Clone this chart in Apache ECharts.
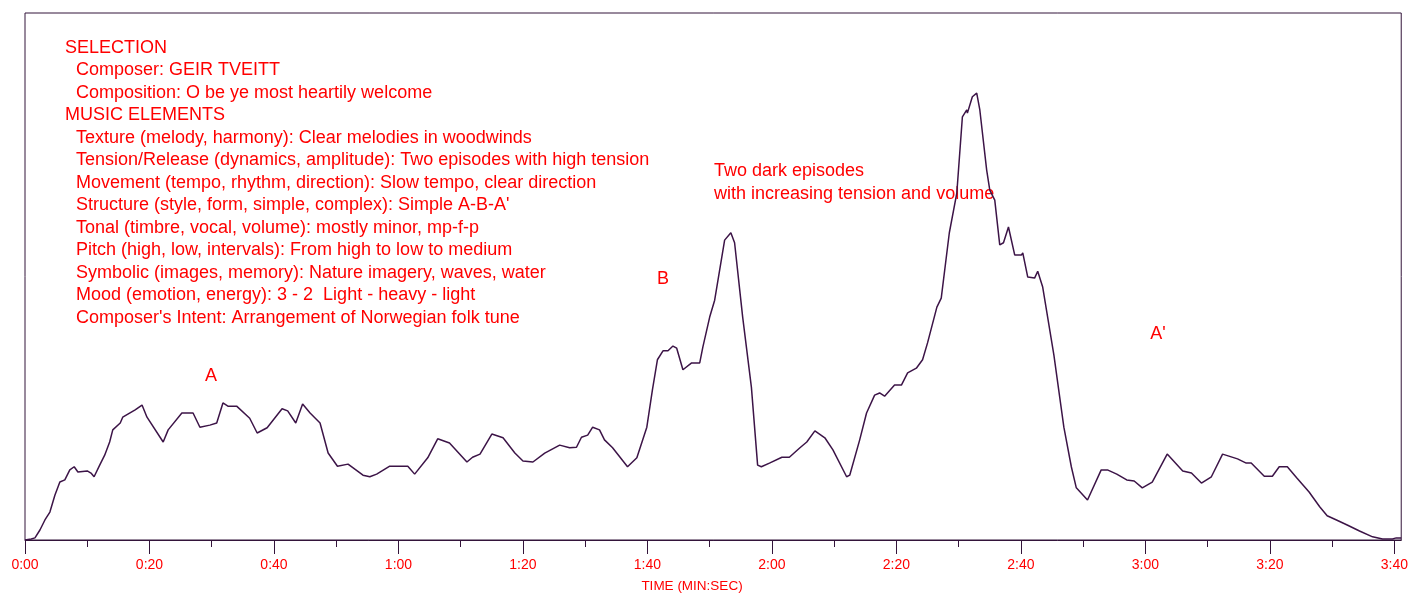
<!DOCTYPE html>
<html>
<head>
<meta charset="utf-8">
<title>Listening map</title>
<script src="https://cdn.jsdelivr.net/npm/echarts@6/dist/echarts.min.js"></script>
<style>
  html, body { margin: 0; padding: 0; background: #fff; }
  #chart { width: 1411px; height: 593px; }
</style>
</head>
<body>
<div id="chart"></div>
<script>
// time in seconds, amplitude (0 = baseline, 100 = top of box)
const times = [0, 1.0, 1.6, 2.4, 3.2, 4.0, 4.8, 5.6, 6.4, 7.2, 7.9, 8.5, 10.0, 10.6, 11.1, 12.0, 12.8, 13.6,
  14.1, 15.3, 15.7, 17.7, 18.8, 19.6,
  22.2, 23.0, 25.2, 27.0, 28.1, 29.7, 30.8, 31.8, 32.6, 34.0, 36.1, 37.3, 38.9, 41.3, 42.2, 43.5,
  44.6, 45.8, 47.4, 48.7, 50.2, 51.9, 54.3, 55.4, 56.5, 58.6, 61.5, 62.6, 64.7, 66.3, 68.2, 71.0,
  71.9, 73.1, 75.0, 76.8, 78.7, 80.0, 81.6, 83.5, 85.9, 87.5, 88.6, 89.4, 90.4, 91.2, 92.3, 93.1,
  94.4, 96.8, 98.3, 99.9, 100.8, 101.6, 102.5, 103.3, 104.1, 104.7, 105.7, 107.1, 108.4, 108.9,
  110.0, 110.8, 112.4, 113.4, 114.0, 115.3, 116.7, 117.7, 118.3, 119.6, 121.6, 122.8, 124.5, 125.6,
  126.9, 128.5, 129.8, 132.0, 132.5, 134.1, 135.2, 136.5, 137.3, 138.1, 139.7, 140.8, 141.8, 143.2,
  144.2, 145.0, 146.5, 147.2, 148.5, 149.7, 150.6, 151.3, 151.4, 152.2, 152.9, 153.4, 154.5, 155.0,
  155.8, 156.6, 157.2, 158.0, 159.0, 160.1, 160.3, 161.1, 162.2, 162.7, 163.5, 165.3, 166.9, 168.1,
  168.9, 170.7, 172.9, 173.9, 175.4, 177.0, 178.2, 179.5, 181.1, 183.5, 186.0, 187.4, 189.0, 190.6,
  192.4, 194.8, 196.2, 197.0, 199.1, 200.4, 201.5, 202.8,
  204.3, 206.3, 208.0, 209.2, 210.7, 212.5, 214.4, 216.5, 218.1, 219.7, 220.3, 221.1];
const amplitude = [0, 0.2, 0.4, 1.9, 3.8, 5.3, 8.5, 11.0, 11.4, 13.3, 13.9, 12.9, 13.1, 12.7, 12.0, 14.2, 16.1, 18.6,
  20.9, 22.2, 23.3, 24.7, 25.6, 23.3,
  18.6, 20.9, 24.1, 24.1, 21.4, 21.8, 22.2, 26.0, 25.4, 25.4, 23.1, 20.3, 21.3, 24.9, 24.5, 22.2,
  25.8, 24.1, 22.2, 16.5, 14.0, 14.4, 12.3, 12.0, 12.5, 14.0, 14.0, 12.5, 15.6, 19.2, 18.4, 14.8,
  15.7, 16.3, 20.1, 19.4, 16.5, 15.0, 14.8, 16.5, 18.0, 17.5, 17.6, 19.5, 19.9, 21.4, 20.9, 19.0,
  17.5, 13.9, 15.6, 21.4, 28.5, 34.2, 35.9, 35.9, 36.8, 36.4, 32.3, 33.6, 33.6, 36.6,
  42.3, 45.5, 56.9, 58.3, 56.4, 42.3, 29.0, 14.2, 13.9, 14.6, 15.7, 15.7, 17.5, 18.6,
  20.7, 19.4, 17.1, 12.0, 12.3, 19.0, 24.1, 27.5, 27.9, 27.3, 29.4, 29.4, 31.7, 32.6,
  34.2, 37.4, 44.2, 45.9, 58.3, 65.8, 80.3, 81.6, 81.0, 84.1, 84.8, 81.6, 70.2, 66.4,
  64.5, 56.0, 56.4, 59.4, 54.1, 54.1, 54.5, 49.9, 49.7, 51.0, 48.0, 35.1, 21.4, 13.9,
  9.9, 7.6, 13.3, 13.3, 12.5, 11.4, 11.2, 9.9, 11.0, 16.3, 13.1, 12.7, 10.8, 12.0,
  16.3, 15.4, 14.6, 14.6, 12.1, 12.1, 13.9, 13.9,
  11.8, 9.1, 6.3, 4.6, 3.8, 2.8, 1.7, 0.6, 0.2, 0.2, 0.4, 0.4];

const majorTicks = [0, 20, 40, 60, 80, 100, 120, 140, 160, 180, 200, 220];
const minorTicks = [10, 30, 50, 70, 90, 110, 130, 150, 170, 190, 210];
const xTitle = 'TIME (MIN:SEC)';

const infoLines = [
  'SELECTION',
  'Composer: GEIR TVEITT',
  'Composition: O be ye most heartily welcome',
  'MUSIC ELEMENTS',
  'Texture (melody, harmony): Clear melodies in woodwinds',
  'Tension/Release (dynamics, amplitude): Two episodes with high tension',
  'Movement (tempo, rhythm, direction): Slow tempo, clear direction',
  'Structure (style, form, simple, complex): Simple A-B-A\'',
  'Tonal (timbre, vocal, volume): mostly minor, mp-f-p',
  'Pitch (high, low, intervals): From high to low to medium',
  'Symbolic (images, memory): Nature imagery, waves, water',
  'Mood (emotion, energy): 3 - 2  Light - heavy - light',
  'Composer\'s Intent: Arrangement of Norwegian folk tune'
];
const sectionLabels = ['A', 'B', 'A\''];
const episodeNote = ['Two dark episodes', 'with increasing tension and volume'];

const RED = '#ff0000';
const DARK = '#33143a';
const FONT = '"Liberation Sans", Arial, sans-serif';

const chart = echarts.init(document.getElementById('chart'));

function fmtTime(v) {
  const m = Math.floor(v / 60);
  const s = Math.round(v % 60);
  return m + ':' + (s < 10 ? '0' : '') + s;
}

const textEls = infoLines.map((line, i) => ({
  type: 'text',
  x: line === line.toUpperCase() ? 65 : 76,
  y: 48 + i * 22.5,
  style: { text: line, fill: RED, font: '18px ' + FONT, textVerticalAlign: 'middle' }
}));

const sectionPos = [[211, 376], [663, 279], [1158, 334]];
sectionLabels.forEach((s, i) => {
  textEls.push({
    type: 'text',
    x: sectionPos[i][0],
    y: sectionPos[i][1],
    style: { text: s, fill: RED, font: '18px ' + FONT, textAlign: 'center', textVerticalAlign: 'middle' }
  });
});
episodeNote.forEach((s, i) => {
  textEls.push({
    type: 'text',
    x: 714,
    y: 171 + i * 23,
    style: { text: s, fill: RED, font: '18px ' + FONT, textVerticalAlign: 'middle' }
  });
});
textEls.push({
  type: 'text',
  x: 692,
  y: 586,
  style: { text: xTitle, fill: RED, font: '13.5px ' + FONT, textAlign: 'center', textVerticalAlign: 'middle' }
});

const option = {
  backgroundColor: '#fff',
  animation: false,
  grid: {
    left: 25, right: 9, top: 13, bottom: 53,
    show: true,
    borderColor: DARK,
    borderWidth: 1,
    backgroundColor: 'transparent'
  },
  xAxis: [{
    type: 'value',
    min: 0,
    max: 221.1,
    position: 'bottom',
    axisLine: { show: true, lineStyle: { color: DARK, width: 1 } },
    axisTick: { show: true, customValues: majorTicks, length: 14, lineStyle: { color: DARK, width: 1 } },
    axisLabel: {
      show: true,
      customValues: majorTicks,
      formatter: fmtTime,
      color: RED,
      fontSize: 14,
      fontFamily: FONT,
      margin: 18
    },
    splitLine: { show: false }
  }, {
    type: 'value',
    min: 0,
    max: 221.1,
    position: 'bottom',
    axisLine: { show: false },
    axisTick: { show: true, customValues: minorTicks, length: 7, lineStyle: { color: DARK, width: 1 } },
    axisLabel: { show: false },
    splitLine: { show: false }
  }],
  yAxis: {
    type: 'value',
    min: 0,
    max: 100,
    show: false,
    splitLine: { show: false }
  },
  series: [{
    type: 'line',
    data: times.map((t, i) => [t, amplitude[i]]),
    showSymbol: false,
    symbol: 'none',
    lineStyle: { color: '#3c1447', width: 1.5 },
    silent: true
  }],
  graphic: textEls
};

chart.setOption(option);
</script>
</body>
</html>
